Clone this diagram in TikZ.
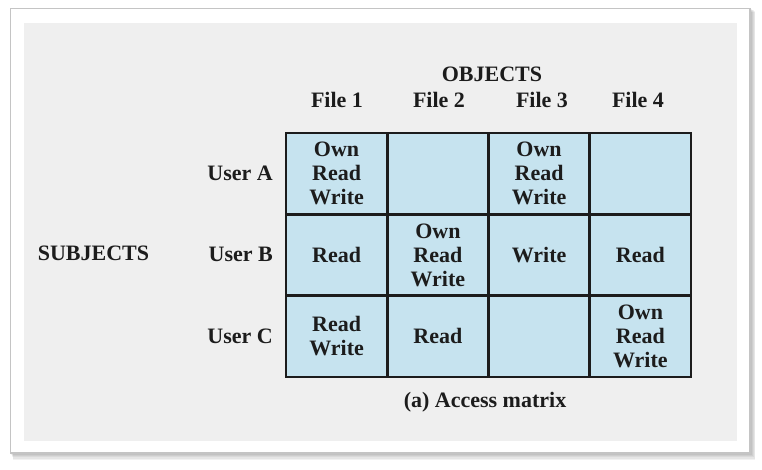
\documentclass[tikz,border=0pt]{standalone}
\usepackage{fontspec}
\setmainfont{Liberation Serif}
\definecolor{cellblue}{HTML}{C6E3EF}
\definecolor{panelgray}{HTML}{EFEFEF}
\definecolor{framegray}{HTML}{C4C4C4}
\definecolor{inkdark}{HTML}{1C1C1C}
\begin{document}
\begin{tikzpicture}[x=1pt,y=-1pt,
  txt/.style={font=\fontsize{22}{24}\selectfont\bfseries, text=inkdark, inner sep=0pt},
  cell/.style={txt, draw=inkdark, line width=2.6pt, fill=cellblue, minimum width=101.25pt, minimum height=81.33pt, align=center, anchor=center},
]
\useasboundingbox (0,0) rectangle (762,470);
\fill[white] (0,0) rectangle (762,470);
% shadow
\foreach \k in {1,...,6}{
  \fill[black, opacity=0.05] (10+0.5*\k,8+0.6*\k) rectangle (750+0.9*\k,453+1.1*\k);
}
\filldraw[fill=white, draw=framegray, line width=1.2pt] (10.5,8.5) rectangle (750,453);
\fill[panelgray] (24,23) rectangle (737,441);

% cells
\node[cell] (a1) at (336.6,173.7) {Own\\Read\\Write};
\node[cell] (a2) at (437.9,173.7) {};
\node[cell] (a3) at (539.1,173.7) {Own\\Read\\Write};
\node[cell] (a4) at (640.4,173.7) {};
\node[cell] (b1) at (336.6,255.0) {Read};
\node[cell] (b2) at (437.9,255.0) {Own\\Read\\Write};
\node[cell] (b3) at (539.1,255.0) {Write};
\node[cell] (b4) at (640.4,255.0) {Read};
\node[cell] (c1) at (336.6,336.3) {Read\\Write};
\node[cell] (c2) at (437.9,336.3) {Read};
\node[cell] (c3) at (539.1,336.3) {};
\node[cell] (c4) at (640.4,336.3) {Own\\Read\\Write};

% headers
\node[txt, anchor=base] (obj) at (492,82) {OBJECTS};
\node[txt, anchor=base] (f1) at (337,108) {File 1};
\node[txt, anchor=base] (f2) at (439,108) {File 2};
\node[txt, anchor=base] (f3) at (542,108) {File 3};
\node[txt, anchor=base] (f4) at (638,108) {File 4};

\node[txt, anchor=base east] (ua) at (273,181) {User A};
\node[txt, anchor=base east] (ub) at (273,261) {User B};
\node[txt, anchor=base east] (uc) at (273,343) {User C};
\node[txt, anchor=base] (subj) at (93.5,260) {SUBJECTS};

\node[txt, anchor=base] (cap) at (485,407) {(a) Access matrix};
\end{tikzpicture}
\end{document}
